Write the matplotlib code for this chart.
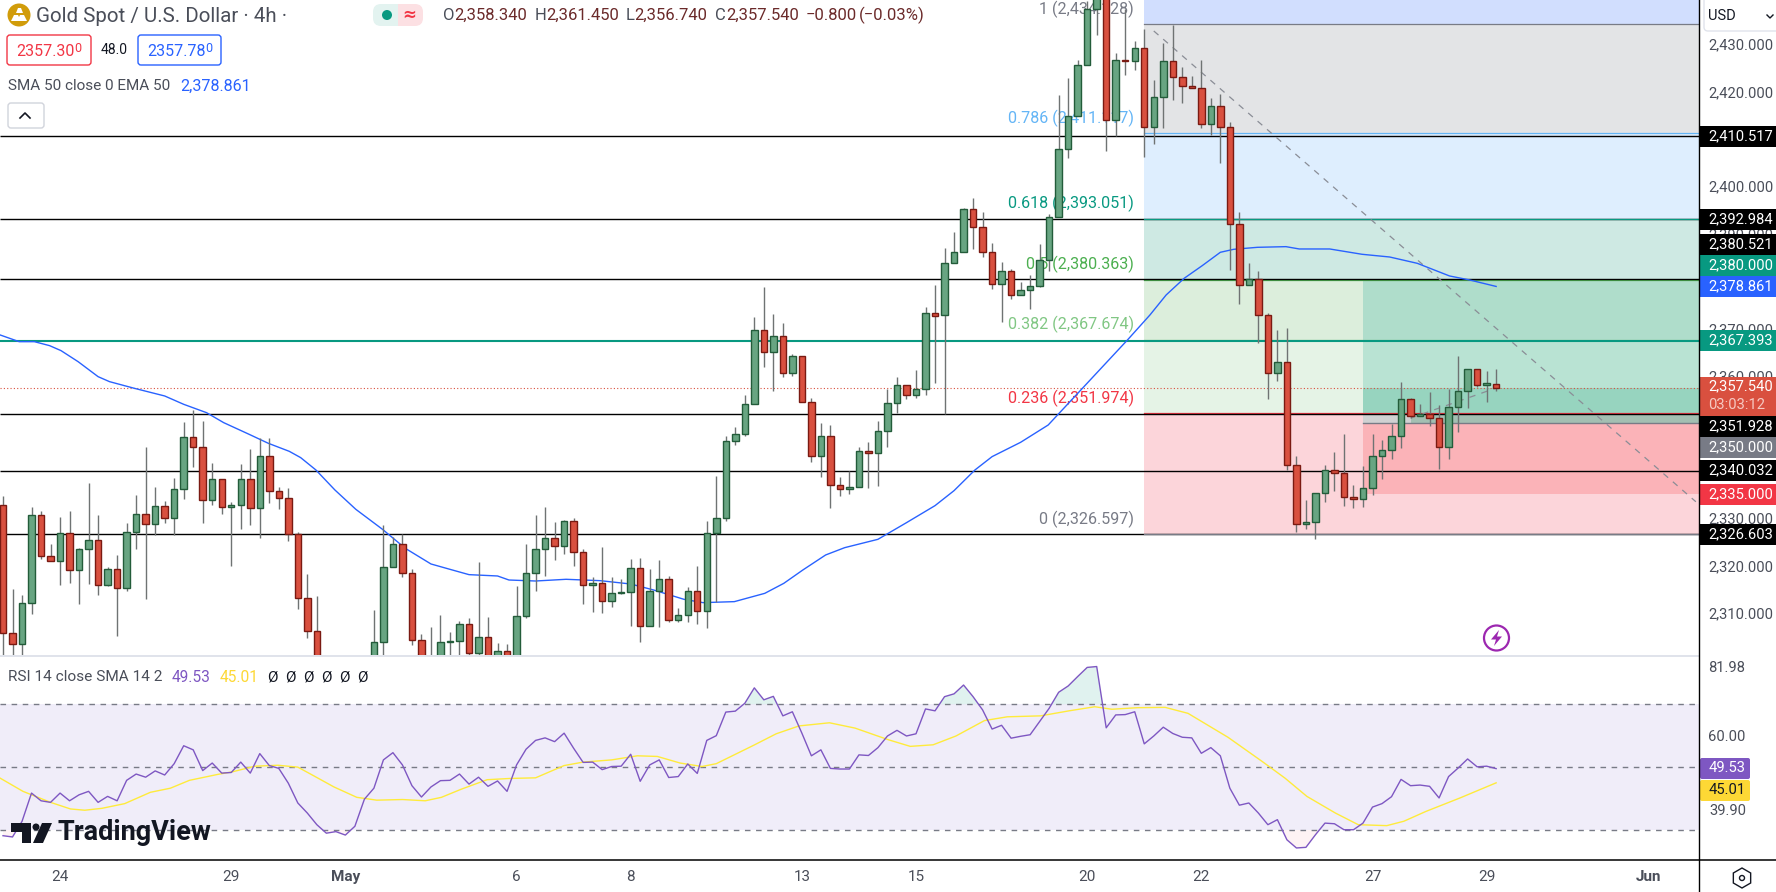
import matplotlib
matplotlib.use('Agg')
import matplotlib.pyplot as plt
from matplotlib.patches import Rectangle, FancyBboxPatch, Circle, RegularPolygon, Polygon
from matplotlib.transforms import offset_copy

plt.rcParams['font.family'] = ['Roboto', 'DejaVu Sans']

# 4h candles
opens = [2332.72, 2305.73, 2303.41, 2312.06, 2330.61, 2322.11, 2321.05, 2326.81, 2319.15, 2323.44,
         2325.34, 2315.99, 2319.22, 2315.36, 2327.02, 2330.82, 2328.85, 2332.51, 2329.98, 2336.09,
         2347.05, 2344.95, 2333.77, 2338.2, 2332.3, 2332.72, 2338.2, 2332.08, 2343.05, 2335.67,
         2334.19, 2326.6, 2313.11, 2306.15, 2298, 2294, 2288, 2293, 2290, 2297,
         2303.83, 2319.65, 2324.49, 2318.38, 2304.25, 2296, 2299, 2303.83, 2304.11, 2307.63,
         2301.51, 2304.89, 2300.67, 2301.94, 2300.5, 2309.31, 2318.38, 2323.44, 2325.76, 2324.07,
         2329.34, 2322.81, 2315.85, 2316.27, 2312.62, 2314.16, 2314.45, 2319.43, 2307.35, 2314.59,
         2317.12, 2308.61, 2309.53, 2314.59, 2310.51, 2326.81, 2329.98, 2346.21, 2347.69, 2354.01,
         2369.61, 2364.98, 2368.35, 2360.55, 2364.13, 2354.43, 2343.19, 2347.27, 2336.93, 2336.09,
         2336.51, 2344.1, 2343.82, 2348.32, 2354.22, 2358.02, 2355.91, 2357.17, 2373.2, 2372.78,
         2383.74, 2386.06, 2395.12, 2391.33, 2386.06, 2379.31, 2382.05, 2376.99, 2378.05, 2378.89,
         2384.37, 2393.44, 2407.77, 2414.73, 2425.48, 2437.29, 2440, 2413.89, 2426.54, 2426.4,
         2429.07, 2412.41, 2418.74, 2426.33, 2422.96, 2421.06, 2420.64, 2413.05, 2416.84, 2412.41,
         2391.96, 2379.1, 2380.37, 2372.78, 2360.55, 2362.87, 2341.15, 2328.71, 2329.13, 2335.25,
         2340.24, 2339.46, 2334.4, 2333.98, 2336.3, 2343.05, 2344.31, 2347.26, 2355.06, 2351.48,
         2351.9, 2351.06, 2344.94, 2353.38, 2356.75, 2361.39, 2358.02, 2358.34]
closes = [2305.73, 2303.41, 2312.06, 2330.61, 2322.11, 2321.05, 2326.81, 2319.15, 2323.44, 2325.34,
          2315.99, 2319.22, 2315.36, 2327.02, 2330.82, 2328.85, 2332.51, 2329.98, 2336.09, 2347.05,
          2344.95, 2333.77, 2338.2, 2332.3, 2332.72, 2338.2, 2332.08, 2343.05, 2335.67, 2334.19,
          2326.6, 2313.11, 2306.15, 2298, 2294, 2288, 2293, 2290, 2297, 2303.83,
          2319.65, 2324.49, 2318.38, 2304.25, 2299.4, 2300.2, 2303.83, 2304.11, 2307.63, 2301.51,
          2304.89, 2300.67, 2301.94, 2300.5, 2309.31, 2318.38, 2323.44, 2325.76, 2324.07, 2329.34,
          2322.81, 2315.85, 2316.27, 2312.62, 2314.16, 2314.45, 2319.43, 2307.35, 2314.59, 2317.12,
          2308.61, 2309.53, 2314.59, 2310.51, 2326.81, 2329.98, 2346.21, 2347.69, 2354.01, 2369.61,
          2364.98, 2368.35, 2360.55, 2364.13, 2354.43, 2343.19, 2347.27, 2336.93, 2336.09, 2336.51,
          2344.1, 2343.82, 2348.32, 2354.22, 2358.02, 2355.91, 2357.17, 2373.2, 2372.71, 2383.74,
          2386.06, 2395.12, 2391.33, 2386.06, 2379.31, 2382.05, 2376.99, 2378.05, 2378.89, 2384.37,
          2393.44, 2407.77, 2414.73, 2425.48, 2437.29, 2440, 2413.89, 2426.54, 2426.4, 2429.07,
          2412.41, 2418.74, 2426.33, 2422.96, 2421.06, 2420.64, 2413.05, 2416.84, 2412.41, 2391.96,
          2379.1, 2380.37, 2372.78, 2360.55, 2362.87, 2341.15, 2328.71, 2329.13, 2335.25, 2340.24,
          2339.46, 2334.4, 2333.98, 2336.3, 2343.05, 2344.31, 2347.26, 2355.06, 2351.48, 2351.9,
          2351.06, 2344.94, 2353.38, 2356.75, 2361.39, 2358.02, 2358.44, 2357.54]
highs = [2334.69, 2315.08, 2313.81, 2332.37, 2331.52, 2324.57, 2330.26, 2331.52, 2323.72, 2337.43,
         2330.68, 2319.72, 2322.25, 2328.99, 2334.9, 2345.02, 2336.58, 2333.63, 2338.48, 2350.29,
         2352.82, 2350.5, 2341.64, 2338.2, 2333.42, 2341.43, 2344.6, 2346.91, 2346.91, 2336.58,
         2336.37, 2327.02, 2318.24, 2313.6, 2301, 2298, 2296, 2298, 2300, 2310.65,
         2328.57, 2325.97, 2326.67, 2319.22, 2305.52, 2307.07, 2309.6, 2306.01, 2308.33, 2308.96,
         2320.77, 2309.17, 2303.62, 2303.41, 2315.71, 2324.57, 2330.68, 2332.37, 2329.2, 2329.63,
         2330.05, 2323.44, 2317.61, 2323.93, 2317.61, 2317.12, 2321.4, 2321.61, 2319.22, 2321.19,
         2317.82, 2311.14, 2315.5, 2319.93, 2329.41, 2338.9, 2347.34, 2349.23, 2355.98, 2372.43,
         2378.75, 2373.13, 2371.16, 2364.55, 2364.3, 2355.28, 2350.08, 2349.65, 2338.69, 2339.96,
         2345.02, 2346.07, 2350.5, 2357.25, 2359.78, 2358.1, 2361.25, 2374.53, 2379.17, 2386.97,
         2390.35, 2395.33, 2397.51, 2394.56, 2388.03, 2384.02, 2382.47, 2379.8, 2381.21, 2387.82,
         2394.14, 2419.23, 2422.74, 2426.54, 2439, 2442, 2443, 2428.16, 2437.29, 2430.62,
         2433.15, 2422.39, 2430.12, 2433.99, 2425.06, 2423.24, 2426.61, 2418.6, 2419.44, 2413.54,
         2394.56, 2383.74, 2382.12, 2373.2, 2369.68, 2370.1, 2343.12, 2333.84, 2335.25, 2341.29,
         2343.96, 2347.76, 2337.0, 2341.01, 2347.76, 2346.49, 2349.86, 2358.72, 2355.28, 2354.08,
         2356.61, 2353.87, 2357.24, 2364.2, 2361.46, 2361.46, 2361.04, 2361.45]
lows = [2298.7, 2298, 2299, 2309.88, 2321.47, 2321.05, 2315.92, 2316.34, 2311.91, 2316.13,
        2313.81, 2315.71, 2305.24, 2314.73, 2323.51, 2312.97, 2326.46, 2328.99, 2326.46, 2334.05,
        2340.8, 2328.99, 2332.79, 2330.89, 2319.93, 2327.73, 2328.57, 2325.83, 2333.21, 2331.94,
        2325.2, 2310.86, 2304.75, 2296, 2292, 2285, 2285, 2288, 2287, 2295,
        2298, 2319.65, 2317.68, 2303.34, 2297, 2295, 2297, 2300, 2300.5, 2301,
        2300, 2299, 2299, 2299, 2299, 2308.96, 2314.66, 2317.82, 2321.19, 2322.46,
        2319.93, 2311.91, 2310.23, 2310, 2311.28, 2314, 2307.28, 2303.9, 2307.35, 2307.07,
        2308.19, 2308.19, 2308.12, 2307.7, 2306.85, 2312.34, 2329.41, 2345.44, 2347.34, 2354.01,
        2361.88, 2356.89, 2359.78, 2359.99, 2354.43, 2341.85, 2338.69, 2332.16, 2334.69, 2335.11,
        2336.51, 2336.37, 2336.79, 2345.02, 2352.19, 2355.14, 2355.35, 2355.98, 2358.51, 2351.97,
        2383.74, 2386.06, 2386.76, 2385.0, 2378.26, 2371.3, 2376.15, 2376.99, 2374.18, 2378.8,
        2382.05, 2393.44, 2406.02, 2414.73, 2425.48, 2431.88, 2407.49, 2410.52, 2423.52, 2424.5,
        2406.23, 2408.83, 2412.27, 2418.18, 2417.61, 2420.64, 2412.27, 2410.87, 2404.96, 2382.33,
        2375.16, 2379.1, 2367.01, 2355.21, 2358.93, 2340.17, 2327.09, 2327.73, 2325.62, 2333.49,
        2335.74, 2332.57, 2332.15, 2332.43, 2334.89, 2338.34, 2342.48, 2344.8, 2351.06, 2351.48,
        2349.44, 2340.38, 2342.48, 2348.18, 2353.17, 2357.59, 2354.57, 2356.74]

# EMA 50, read at the bars where the curve bends
ema_bars = [-0.3, 1.7, 3.3, 4.9, 6.1, 7.9, 10.0, 11.2, 13.8, 17.0, 19.0, 21.4, 23.2, 25.8, 27.9, 30.1,
            31.3, 32.9, 34.9, 37.1, 39.9, 42.3, 45.0, 47.0, 49.0, 52.0, 53.2, 56.0, 59.2, 62.8, 66.0,
            68.4, 71.6, 73.6, 76.9, 80.1, 82.1, 84.1, 86.5, 88.5, 92.0, 95.0, 98.0, 100.0, 102.2, 104.0,
            107.0, 109.9, 113.5, 118.3, 120.6, 122.3, 124.2, 126.1, 128.0, 129.4, 131.9, 134.9, 136.3,
            139.5, 142.9, 145.8, 148.7, 152.1, 154.2, 157]
ema_vals = [2368.63, 2367.22, 2367.22, 2366.38, 2365.33, 2363.0, 2359.84, 2358.79, 2357.39, 2355.77,
            2354.01, 2352.25, 2350.15, 2347.76, 2345.79, 2344.1, 2342.77, 2340.17, 2335.95, 2331.87,
            2327.66, 2323.65, 2320.35, 2319.22, 2318.1, 2317.82, 2316.97, 2316.76, 2317.12, 2316.83,
            2316.13, 2314.87, 2312.9, 2312.2, 2312.41, 2314.16, 2316.27, 2319.08, 2322.25, 2323.79,
            2325.55, 2329.06, 2332.65, 2335.81, 2340.17, 2342.98, 2346.0, 2349.65, 2357.39, 2367.72,
            2372.85, 2377.06, 2380.58, 2383.25, 2386.06, 2386.69, 2387.11, 2387.25, 2386.76, 2386.76,
            2385.64, 2385.07, 2383.74, 2381.07, 2380.23, 2378.861]

rsi = [28.2, 27.8, 32.75, 41.75, 39.3, 38.8, 41.75, 39.3, 41.2, 42.3, 38.8, 40.7, 39.3, 45.8, 47.8, 46.8,
       48.8, 47.5, 51.1, 56.8, 55.5, 48.9, 51.3, 48.1, 48.3, 51.6, 48.1, 54.3, 50.5, 49.6, 44.9, 38.6,
       35.4, 31.7, 29.0, 29.5, 28.4, 31.2, 39.8, 43.3, 52.3, 54.6, 50.7, 44.1, 40.5, 43.7, 45.7, 45.8,
       47.8, 44.6, 46.8, 43.9, 45.6, 42.3, 50.7, 55.7, 58.5, 59.3, 58.1, 60.8, 56.0, 51.5, 51.6, 49.2,
       50.2, 50.3, 54.1, 45.5, 50.7, 52.3, 46.7, 47.0, 51.0, 48.0, 58.5, 60.0, 67.5, 67.8, 70.3, 75.2,
       71.4, 72.5, 66.3, 67.6, 60.8, 53.6, 55.5, 49.6, 49.4, 49.4, 53.9, 53.7, 56.2, 59.9, 61.7, 59.9,
       60.6, 68.5, 67.9, 72.4, 73.3, 76.1, 72.4, 68.2, 62.1, 63.3, 59.2, 59.8, 60.3, 64.5, 68.7, 73.8,
       75.8, 78.8, 81.7, 81.98, 62.5, 66.6, 66.7, 67.6, 57.4, 59.9, 62.7, 60.7, 59.5, 59.3, 54.4, 56.2,
       53.6, 43.3, 37.9, 38.6, 35.4, 31.7, 33.3, 26.9, 24.3, 24.5, 28.5, 32.2, 32.0, 30.1, 30.1, 32.2,
       37.3, 38.4, 40.6, 46.1, 44.1, 44.3, 43.9, 40.2, 47.0, 49.7, 52.6, 50.1, 50.3, 49.53]
rsi_ma_bars = [-0.3, 2.1, 5.0, 7.1, 8.6, 10.4, 12.8, 15.5, 17.6, 19.6, 22.6, 24.1, 26.5, 28.9, 31.0, 32.7,
               34.8, 37.2, 39.3, 42.0, 44.4, 46.1, 48.2, 50.9, 53.3, 56.0, 59.0, 61.0, 64.0, 66.7, 68.8,
               71.2, 73.5, 75.0, 78.9, 81.3, 83.7, 86.9, 89.6, 93.1, 95.4, 97.8, 100.2, 103.2, 105.6,
               109.1, 112.1, 114.8, 116.6, 119.3, 122.2, 124.6, 128.8, 132.4, 134.8, 137.1, 140.1, 142.5,
               145.5, 147.3, 149.6, 153.2, 157]
rsi_ma_vals = [46.5, 42.3, 38.8, 36.7, 36.3, 36.9, 38.4, 42.0, 43.3, 45.8, 47.7, 48.5, 50.3, 50.6, 50.0, 47.2,
               43.7, 40.4, 39.5, 39.7, 39.3, 40.4, 43.0, 46.0, 46.4, 46.6, 50.5, 51.6, 52.3, 53.6, 53.4,
               51.3, 50.2, 51.1, 56.9, 60.6, 63.1, 64.1, 62.4, 58.7, 56.6, 57.1, 59.9, 64.8, 66.0,
               66.3, 67.9, 69.2, 68.4, 68.9, 69.0, 67.1, 59.5, 51.8, 46.5, 40.7, 35.4, 31.7,
               31.4, 32.8, 35.9, 40.2, 45.01]

# levels
support_levels = [2410.517, 2392.984, 2380.521, 2351.928, 2340.032, 2326.603]
ma_level = 2367.393
last_price = 2357.54
fib_prices = [2434.128, 2411.117, 2393.051, 2380.363, 2367.674, 2351.974, 2326.597]
fib_names = ['1 (2,434.128)', '0.786 (2,411.117)', '0.618 (2,393.051)', '0.5 (2,380.363)',
             '0.382 (2,367.674)', '0.236 (2,351.974)', '0 (2,326.597)']
fib_line_colors = ['#787b86', '#64b5f6', '#089981', '#4caf50', '#81c784', '#f23645', '#787b86']
fib_band_colors = ['#d1defe', '#e3e4e6', '#deeefe', '#cee9e3', '#dceedc', '#e5f3e6', '#fcd5da']
fib_start = 120
box_start = 143
box_bands = [(2367.674, 2380.0, '#afddcb'), (2357.54, 2367.674, '#b9e3d3'), (2351.974, 2357.54, '#97d4bf'),
             (2350.0, 2351.974, '#a3bfb2'), (2335.0, 2350.0, '#fbb3b8')]
trend_bars = [121, 178]
trend_prices = [2432.72, 2333.47]
pos_bars = [148, 157]
pos_prices = [2351.1, 2357.45]

# 2340, 2350, 2380 and 2410 sit fully behind the price tags
price_ticks = [2310, 2320, 2330, 2360, 2370, 2390, 2400, 2420, 2430]
date_bars = [6, 24, 36, 54, 66, 84, 96, 114, 126, 144, 156, 173]
date_labels = ['24', '29', 'May', '6', '8', '13', '15', '20', '22', '27', '29', 'Jun']

W, H = 1776, 892
AX_R = 1699
PANE_B = 655
RSI_T, RSI_B = 656, 860.3
xlim = (-0.315, 178.33)
GREY = '#4a4e59'
AXFONT = 10.6

fig = plt.figure(figsize=(W / 100, H / 100), dpi=100, facecolor='white')
ax = fig.add_axes([0, 1 - PANE_B / H, AX_R / W, PANE_B / H])
ax_rsi = fig.add_axes([0, 1 - RSI_B / H, AX_R / W, (RSI_B - RSI_T) / H])
ov = fig.add_axes([0, 0, 1, 1], zorder=10)
ov.set_xlim(0, W)
ov.set_ylim(H, 0)
ov.axis('off')
ov.patch.set_alpha(0)

# main pane
ax.set_xlim(*xlim)
ax.set_ylim(2301.16, 2439.25)
for s in ax.spines.values():
    s.set_visible(False)
ax.set_xticks([])
ax.yaxis.tick_right()
ax.set_yticks(price_ticks)
ax.set_yticklabels([f'{p:,.3f}' for p in price_ticks], fontsize=AXFONT, color=GREY)
ax.tick_params(axis='y', length=0, pad=6.5)

# fib bands
tops = [2439.25] + fib_prices[:-1]
for top, bot, c in zip(tops, fib_prices, fib_band_colors):
    ax.add_patch(Rectangle((fib_start, bot), xlim[1] - fib_start, top - bot, color=c, lw=0, zorder=1))
# long position box
for bot, top, c in box_bands:
    ax.add_patch(Rectangle((box_start, bot), xlim[1] - box_start, top - bot, color=c, lw=0, zorder=1.2))
ax.add_patch(Rectangle((box_start, 2350.0), pos_bars[0] - box_start, 1.974, color='#d0d1d2', lw=0, zorder=1.3))
ax.plot([box_start, xlim[1]], [2350.0, 2350.0], color='#787b86', lw=1, zorder=2)

ax.hlines(support_levels, *xlim, color='black', lw=1.0, zorder=2.1)
# the 0.236 and 0.5 levels sit a pixel off the black lines, the others cover them
for p, c in zip(fib_prices, fib_line_colors):
    if p == 2351.974:
        tr, z = offset_copy(ax.transData, fig, y=1, units='dots'), 2.0
    elif p == 2380.363:
        tr, z = offset_copy(ax.transData, fig, y=-1, units='dots'), 2.0
    else:
        tr, z = ax.transData, 2.2
    ax.plot([fib_start, xlim[1]], [p, p], color=c, lw=0.9, transform=tr, zorder=z)
ax.hlines(ma_level, *xlim, color='#089981', lw=1.5, zorder=2.3)
ax.hlines(last_price, *xlim, color='#d9503f', lw=0.8, linestyles=(0, (1, 2)), zorder=2.3)

for name, p, c in zip(fib_names, fib_prices, fib_line_colors):
    ax.annotate(name, xy=(fib_start, p), xytext=(-7.5, 11), textcoords='offset points',
                ha='right', va='center', fontsize=11.6, color=c, zorder=2.5)

ax.plot(trend_bars, trend_prices, color='#8a8d96', lw=0.9, ls=(0, (5, 5)), zorder=2.6)
ax.plot(pos_bars, pos_prices, color='#8a8d96', lw=0.9, ls=(0, (5, 5)), zorder=2.6)
ax.plot(ema_bars, ema_vals, color='#2962ff', lw=1.0, zorder=2.8)

# candles
for i, (o, h, l, c) in enumerate(zip(opens, highs, lows, closes)):
    up = c >= o
    ax.vlines(i, l, h, color='#6f7373', lw=1.0, zorder=3)
    ax.bar(i, abs(c - o), bottom=min(o, c), width=0.68, color='#68a582' if up else '#d9503f',
           edgecolor='#235c3a' if up else '#7a1a12', lw=1.0, zorder=4)

# rsi pane
ax_rsi.set_xlim(*xlim)
ax_rsi.set_ylim(20.38, 85.33)
for s in ax_rsi.spines.values():
    s.set_visible(False)
ax_rsi.axhspan(30, 70, color='#f0edf9', lw=0, zorder=1)
for lev in (30, 50, 70):
    ax_rsi.axhline(lev, color='#787b86', lw=1, ls=(0, (4, 4)), zorder=2)
bars = list(range(len(rsi)))
ax_rsi.fill_between(bars, 70, rsi, where=[v > 70 for v in rsi], interpolate=True, color='#089981', alpha=0.12, lw=0)
ax_rsi.fill_between(bars, 30, rsi, where=[v < 30 for v in rsi], interpolate=True, color='#f23645', alpha=0.06, lw=0)
ax_rsi.plot(rsi_ma_bars, rsi_ma_vals, color='#ffeb3b', lw=1.0, zorder=3)
ax_rsi.plot(bars, rsi, color='#7e57c2', lw=1.0, zorder=4)
ax_rsi.yaxis.tick_right()
ax_rsi.set_yticks([60, 81.98])
ax_rsi.set_yticklabels(['60.00', '81.98'], fontsize=AXFONT, color=GREY)
ax_rsi.tick_params(axis='y', length=0, pad=6.5)
ax_rsi.set_xticks(date_bars)
ax_rsi.set_xticklabels(date_labels, fontsize=11, color=GREY)
ax_rsi.tick_params(axis='x', length=0, pad=7)
ax_rsi.get_xticklabels()[2].set_fontweight('bold')
ax_rsi.get_xticklabels()[-1].set_fontweight('bold')

# frame lines
ov.plot([0, AX_R], [655.5, 655.5], color='#e0e3eb', lw=1.4)
ov.plot([0, W], [860.3, 860.3], color='black', lw=1.1)
ov.plot([AX_R, AX_R], [0, H], color='black', lw=1.0)


def tag(y0, y1, label, bg, fg='white', x0=AX_R, x1=W):
    ov.add_patch(Rectangle((x0, y0), x1 - x0, y1 - y0, color=bg, lw=0))
    ov.text(1708, (y0 + y1) / 2, label, color=fg, fontsize=AXFONT, va='center', ha='left')


tag(126, 147, '2,410.517', 'black')
tag(209, 230, '2,392.984', 'black')
tag(234, 255, '2,380.521', 'black')
tag(255, 276, '2,380.000', '#089981')
tag(276, 297, '2,378.861', '#2962ff')
tag(330, 351, '2,367.393', '#089981')
ov.add_patch(Rectangle((AX_R, 377), W - AX_R, 39, color='#d9503f', lw=0))
ov.text(1708, 386.7, '2,357.540', color='white', fontsize=AXFONT, va='center')
ov.text(1708, 404.7, '03:03:12', color='#f6c9c2', fontsize=AXFONT, va='center')
tag(416, 437, '2,351.928', 'black')
tag(437, 458, '2,350.000', '#787b86')
tag(460, 481, '2,340.032', 'black')
tag(484, 505, '2,335.000', '#f23645')
tag(524, 545, '2,326.603', 'black')

ov.add_patch(FancyBboxPatch((1700, 758), 50, 21, boxstyle='round,pad=0,rounding_size=2', color='#7e57c2', lw=0))
ov.text(1709, 768.5, '49.53', color='white', fontsize=AXFONT, va='center')
ov.add_patch(FancyBboxPatch((1700, 780), 50, 21, boxstyle='round,pad=0,rounding_size=2', color='#fdd835', lw=0))
ov.text(1709, 790.5, '45.01', color='#131722', fontsize=AXFONT, va='center')
ov.text(1709, 811, '39.90', color=GREY, fontsize=AXFONT, va='center')

# USD selector
ov.add_patch(FancyBboxPatch((1704, -6), 80, 37, boxstyle='round,pad=0,rounding_size=4',
                            fc='white', ec='#e0e3eb', lw=1))
ov.text(1708, 16, 'USD', color='#131722', fontsize=10.5, va='center')
ov.plot([1767, 1770, 1773], [15, 18, 15], color='#131722', lw=1)

# header
ov.add_patch(Circle((19, 15), 11.5, color='#d19c0a', lw=0))
ov.add_patch(Polygon([(11, 21), (14, 15), (18, 15), (19, 17), (20, 15), (24, 15), (27, 21)], color='white', lw=0))
ov.add_patch(Polygon([(16, 13), (18, 8), (21, 8), (23, 13)], color='white', lw=0))
ov.text(36, 16, 'Gold Spot / U.S. Dollar · 4h ·', fontsize=14.8, color=GREY, va='center')

ov.add_patch(FancyBboxPatch((373, 4), 25, 22, boxstyle='round,pad=0,rounding_size=8', color='#e3f3f0', lw=0))
ov.add_patch(FancyBboxPatch((398, 4), 25, 22, boxstyle='round,pad=0,rounding_size=8', color='#fce0e3', lw=0))
ov.add_patch(Rectangle((390, 4), 8, 22, color='#e3f3f0', lw=0))
ov.add_patch(Rectangle((398, 4), 8, 22, color='#fce0e3', lw=0))
ov.add_patch(Circle((387, 15), 5, color='#089981', lw=0))
ov.text(409.5, 15, '≈', color='#f23645', fontsize=12, ha='center', va='center', family='DejaVu Sans', fontweight='bold')

VAL = '#6b2a2a'
for x, letter, value in [(443, 'O', '2,358.340'), (535, 'H', '2,361.450'), (626, 'L', '2,356.740'), (715, 'C', '2,357.540')]:
    ov.text(x, 15.5, letter, fontsize=12, color=GREY, va='center')
    ov.text(x + (8 if letter == 'L' else 11), 15.5, value, fontsize=12, color=VAL, va='center')
ov.text(805.5, 15.5, '−0.800', fontsize=12, color=VAL, va='center')
ov.text(859, 15.5, '(−0.03%)', fontsize=12, color=VAL, va='center')

ov.add_patch(FancyBboxPatch((7, 35), 84, 30, boxstyle='round,pad=0,rounding_size=3', fc='white', ec='#f23645', lw=1))
ov.text(16.5, 51, '2357.30', fontsize=11.5, color='#f23645', va='center')
ov.text(74.5, 49, '0', fontsize=9, color='#f23645', va='center')
ov.text(101, 50.5, '48.0', fontsize=10, color='#131722', va='center')
ov.add_patch(FancyBboxPatch((138, 35), 83, 30, boxstyle='round,pad=0,rounding_size=3', fc='white', ec='#2962ff', lw=1))
ov.text(147, 51, '2357.78', fontsize=11.5, color='#2962ff', va='center')
ov.text(205, 49, '0', fontsize=9, color='#2962ff', va='center')

ov.text(8.4, 86, 'SMA 50 close 0 EMA 50', fontsize=11, color=GREY, va='center')
ov.text(180, 86, '2,378.861', fontsize=11.6, color='#2962ff', va='center')
ov.add_patch(FancyBboxPatch((8, 103), 36, 25, boxstyle='round,pad=0,rounding_size=3', fc='white', ec='#d1d4dc', lw=1))
ov.plot([20, 25, 30], [118, 113, 118], color='#131722', lw=1.2)

# rsi legend
ov.text(8, 677, 'RSI 14 close SMA 14 2', fontsize=11.1, color=GREY, va='center')
ov.text(172, 677, '49.53', fontsize=11.2, color='#7e57c2', va='center')
ov.text(220, 677, '45.01', fontsize=11.2, color='#fdd835', va='center')
for x in (267, 285, 303, 321, 339, 357):
    ov.text(x, 677, 'Ø', fontsize=11, color='#131722', va='center')

# TradingView mark
ov.add_patch(Polygon([(11, 823), (31, 823), (31, 843), (22, 843), (22, 832), (11, 832)], color='#131722', lw=0))
ov.add_patch(Circle((36, 827), 3.5, color='#131722', lw=0))
ov.add_patch(Polygon([(42, 823), (52, 823), (43, 843), (33, 843)], color='#131722', lw=0))
ov.text(57, 833, 'TradingView', fontsize=19.5, color='#131722', va='center', family='Roboto', fontweight='bold')

# lightning badge
ov.add_patch(Circle((1496.5, 638), 12.5, fc='white', ec='#9c27b0', lw=1.6))
ov.add_patch(Polygon([(1499, 630), (1491, 639.5), (1496, 639.5), (1494, 646), (1502, 636.5), (1497, 636.5)], color='#9c27b0', lw=0))

# settings hexagon
ov.add_patch(RegularPolygon((1742, 878), 6, radius=10, fc='none', ec='#131722', lw=1))
ov.add_patch(Circle((1742, 878), 2.5, fc='none', ec='#131722', lw=1))

fig.savefig('out.png', dpi=100)
